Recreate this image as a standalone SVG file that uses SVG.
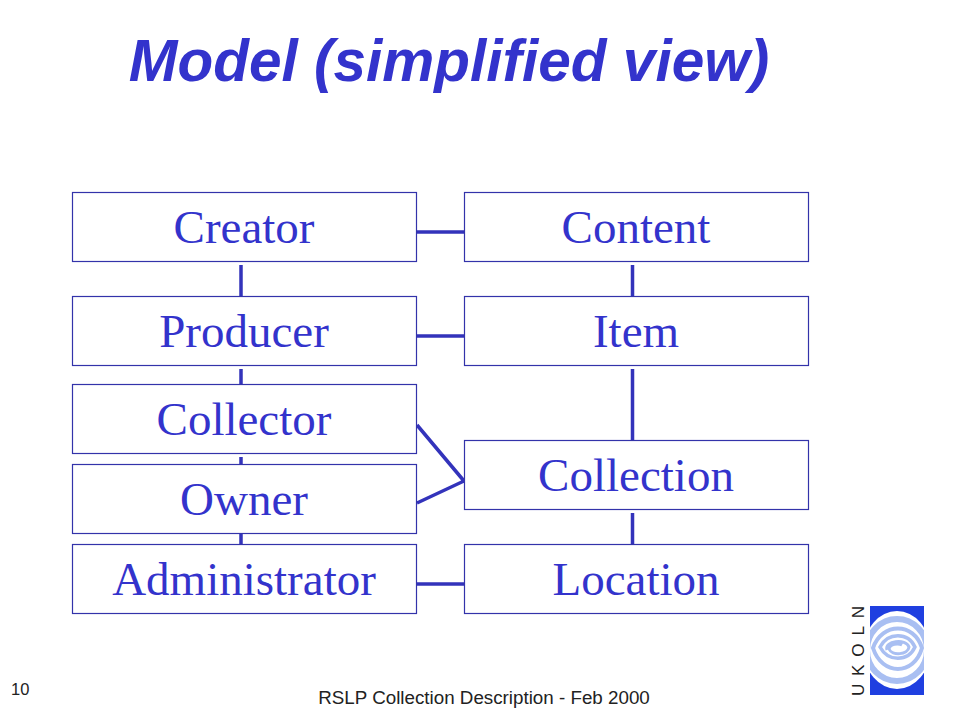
<svg xmlns="http://www.w3.org/2000/svg" width="960" height="720" viewBox="0 0 960 720">
<style>
.n{fill:#fff;stroke:#3333aa;stroke-width:1.2}
.l{font-family:"Liberation Serif",serif;font-size:47px;fill:#3333cc;text-anchor:middle}
.c{stroke:#3333bb;stroke-width:3.500;fill:none}
.f{font-family:"Liberation Sans",sans-serif;fill:#222}
.r{fill:none;stroke:#a9bff2}
</style>
<defs><clipPath id="logo"><rect x="870" y="606" width="54" height="89"/></clipPath></defs>
<rect width="960" height="720" fill="#fff"/>
<text x="449" y="81" font-family="Liberation Sans,sans-serif" font-size="58.500" font-weight="bold" font-style="italic" fill="#3333cc" text-anchor="middle">Model (simplified view)</text>
<g id="connectors">
<path class="c" d="M241 265V296M241 369V384M241 457V464M241 534V544M632.500 265V296M632.500 369V440M632.500 513V544M417 232H464M417 336H464M417 584H464M417 425L464 481L417 503"/>
</g>
<g id="creator"><rect class="n" x="72.500" y="192.500" width="344" height="69"/><text class="l" x="244" y="243">Creator</text></g>
<g id="producer"><rect class="n" x="72.500" y="296.500" width="344" height="69"/><text class="l" x="244" y="347">Producer</text></g>
<g id="collector"><rect class="n" x="72.500" y="384.500" width="344" height="69"/><text class="l" x="244" y="435">Collector</text></g>
<g id="owner"><rect class="n" x="72.500" y="464.500" width="344" height="69"/><text class="l" x="244" y="515">Owner</text></g>
<g id="administrator"><rect class="n" x="72.500" y="544.500" width="344" height="69"/><text class="l" x="244" y="595">Administrator</text></g>
<g id="content"><rect class="n" x="464.500" y="192.500" width="344" height="69"/><text class="l" x="636" y="243">Content</text></g>
<g id="item"><rect class="n" x="464.500" y="296.500" width="344" height="69"/><text class="l" x="636" y="347">Item</text></g>
<g id="collection"><rect class="n" x="464.500" y="440.500" width="344" height="69"/><text class="l" x="636" y="491">Collection</text></g>
<g id="location"><rect class="n" x="464.500" y="544.500" width="344" height="69"/><text class="l" x="636" y="595">Location</text></g>
<text class="f" x="11" y="695" font-size="16.500">10</text>
<text class="f" x="484" y="704" font-size="18.800" text-anchor="middle">RSLP Collection Description - Feb 2000</text>
<rect x="870" y="606" width="54" height="89" fill="#1f3fe0"/>
<g clip-path="url(#logo)">
<ellipse cx="897" cy="650" rx="33" ry="39" fill="#fff"/>
<ellipse cx="897" cy="650" rx="30" ry="31" class="r" stroke-width="6"/>
<path class="r" stroke-width="4" d="M873 648C882 622 914 622 922 648C914 676 882 676 873 648Z"/>
<path class="r" stroke-width="3.500" d="M880 647C888 632 908 632 915 647C908 662 888 662 880 647Z"/>
<path class="r" stroke-width="3" d="M887 650C884 641 906 638 909 647C908 655 892 656 889 649C890 644 898 643 902 645"/>
</g>
<text class="f" transform="translate(864 696) rotate(-90)" font-size="17" textLength="90" fill="#111">UKOLN</text>
</svg>
